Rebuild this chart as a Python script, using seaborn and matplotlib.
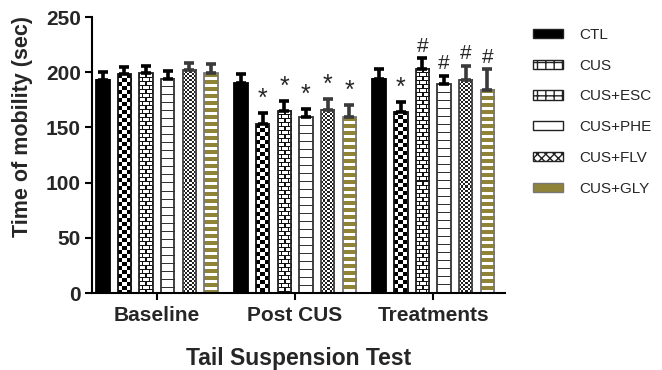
import numpy as np
import pandas as pd
import seaborn as sns
import matplotlib
matplotlib.use("Agg")
import matplotlib.pyplot as plt
from matplotlib.colors import ListedColormap
from matplotlib.patches import Patch

# data (mean and upper error)
phases = ["Baseline", "Post CUS", "Treatments"]
groups = ["CTL", "CUS", "CUS+ESC", "CUS+PHE", "CUS+FLV", "CUS+GLY"]
baseline_mean = [193, 198, 199, 194, 202, 199]
baseline_err = [7, 7, 7, 7, 6, 8]
post_mean = [190, 153, 165, 159, 166, 159]
post_err = [8, 10, 9, 8, 10, 11]
treat_mean = [194, 164, 203, 189, 193, 184]
treat_err = [9, 9, 10, 8, 13, 19]
post_marks = ["", "*", "*", "*", "*", "*"]
treat_marks = ["", "*", "#", "#", "#", "#"]

df = pd.DataFrame({
    "phase": np.repeat(phases, len(groups)),
    "group": groups * len(phases),
    "mean": baseline_mean + post_mean + treat_mean,
    "err": baseline_err + post_err + treat_err,
    "mark": [""] * len(groups) + post_marks + treat_marks,
})

sns.set_style("ticks")
plt.rcParams["font.family"] = ["Liberation Sans", "DejaVu Sans"]

fig = plt.figure(figsize=(6.62, 3.70), dpi=100)
ax = fig.add_axes([0.139, 0.208, 0.624, 0.746])

sns.barplot(data=df, x="phase", y="mean", hue="group", order=phases,
            hue_order=groups, width=0.94, gap=0.38, errorbar=None,
            legend=False, ax=ax)

ax.set_xlim(-0.47, 2.52)
ax.set_ylim(0, 250)

# pixels per data unit, used to build the fill textures
bb = ax.get_window_extent()
ppx = bb.width / 2.99
ppy = bb.height / 250.0

olive = "#8f8338"


def texture(name, nr, nc):
    r, c = np.mgrid[0:nr, 0:nc]
    if name == "CUS":
        return ((r // 4 + c // 4) % 2 == 0).astype(float)
    if name == "CUS+ESC":
        off = np.where((r // 4) % 2 == 1, 3, 0)
        return ((r % 4 == 0) | ((c + off) % 6 == 0)).astype(float)
    if name == "CUS+PHE":
        return (r % 8 == 0).astype(float)
    if name == "CUS+FLV":
        return ((r // 2 + c // 2) % 2 == 0).astype(float)
    if name == "CUS+GLY":
        return (r % 7 < 4).astype(float)
    return np.ones((nr, nc))


tex_colors = {
    "CTL": ("white", "black"),
    "CUS": ("white", "black"),
    "CUS+ESC": ("white", "#111111"),
    "CUS+PHE": ("white", "#333333"),
    "CUS+FLV": ("white", "#222222"),
    "CUS+GLY": ("white", olive),
}
edge_colors = {
    "CTL": "black", "CUS": "#111111", "CUS+ESC": "#222222",
    "CUS+PHE": "#333333", "CUS+FLV": "#444444", "CUS+GLY": "#777777",
}
err_colors = {
    "CTL": "black", "CUS": "black", "CUS+ESC": "black",
    "CUS+PHE": "black", "CUS+FLV": "#3a3a3a", "CUS+GLY": "#3a3a3a",
}

for g, cont in zip(groups, ax.containers):
    sub = df[df["group"] == g]
    xs = []
    for bar in cont:
        x0, w, h = bar.get_x(), bar.get_width(), bar.get_height()
        xs.append(x0 + w / 2)
        nr = max(int(round(h * ppy)), 1)
        nc = max(int(round(w * ppx)), 1)
        arr = texture(g, nr, nc)
        ax.imshow(arr, cmap=ListedColormap(list(tex_colors[g])), vmin=0, vmax=1,
                  extent=(x0, x0 + w, 0, h), aspect="auto",
                  interpolation="nearest", clip_path=bar, zorder=1)
        bar.set_facecolor("none")
        bar.set_edgecolor(edge_colors[g])
        bar.set_linewidth(1.3)
        bar.set_zorder(2)
    means = sub["mean"].to_numpy()
    errs = sub["err"].to_numpy()
    ax.errorbar(xs, means, yerr=[np.zeros_like(errs), errs], fmt="none",
                ecolor=err_colors[g], elinewidth=2.6, capsize=3.3,
                capthick=2.6, zorder=3)
    for x, m, e, mk in zip(xs, means, errs, sub["mark"]):
        if mk:
            ax.text(x, m + e + 2, mk, ha="center", va="bottom",
                    fontsize=18 if mk == "*" else 15, zorder=4)

ax.set_xlim(-0.47, 2.52)
ax.set_ylim(0, 250)
ax.set_yticks(range(0, 251, 50))

sns.despine(ax=ax)
for s in ["left", "bottom"]:
    ax.spines[s].set_linewidth(1.5)
    ax.spines[s].set_color("black")
ax.tick_params(axis="both", width=1.5, length=5, color="black",
               labelsize=15, pad=3)
ax.tick_params(axis="x", pad=4)
for lab in ax.get_xticklabels() + ax.get_yticklabels():
    lab.set_fontweight("bold")

ax.set_ylabel("Time of mobility (sec)", fontsize=15.5, fontweight="bold")
ax.yaxis.set_label_coords(-0.142, 0.605)
ax.set_xlabel("Tail Suspension Test", fontsize=16.5, fontweight="bold",
              labelpad=16)

leg_hatch = {"CTL": "", "CUS": "++", "CUS+ESC": "++", "CUS+PHE": "",
             "CUS+FLV": "xxxx", "CUS+GLY": ""}
leg_face = {"CTL": "black", "CUS": "white", "CUS+ESC": "white",
            "CUS+PHE": "white", "CUS+FLV": "white", "CUS+GLY": olive}
handles = [Patch(facecolor=leg_face[g], edgecolor="#222222" if g != "CUS+GLY" else "#777777",
                 hatch=leg_hatch[g], linewidth=1.0, label=g) for g in groups]
fig.legend(handles=handles, loc="upper left", bbox_to_anchor=(0.785, 0.962),
           frameon=False, fontsize=11, handlelength=1.95, handleheight=0.55,
           labelspacing=1.1, handletextpad=1.05)

fig.savefig("out.png", dpi=100)
